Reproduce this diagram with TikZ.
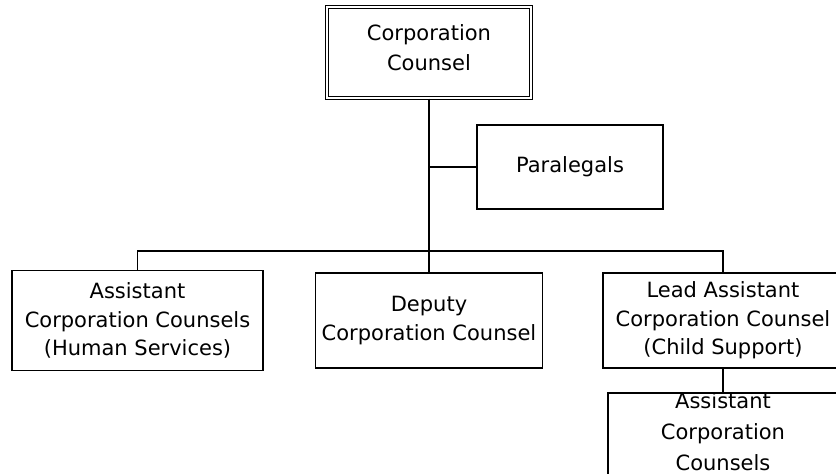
\documentclass[tikz,border=0pt]{standalone}
\usepackage{fontspec}
\setmainfont{DejaVu Sans}
\usetikzlibrary{positioning}
\begin{document}
\begin{tikzpicture}[node distance = 100pt]
    \tikzstyle{conn} = [line width = 1.6pt]
    \tikzstyle{box} = [rectangle, draw = black, line width = 1.6pt, inner sep = 2pt, align = center, font = \fontsize{21}{28.5}\selectfont]
    \tikzstyle{topbox} = [box, double, double distance = 2pt, line width = 1.2pt, font = \fontsize{21}{30}\selectfont]
    \useasboundingbox (0,0) rectangle (836pt,-474pt);
    \clip (0,0) rectangle (836pt,-474pt);

    \node[topbox, minimum width = 204pt, minimum height = 91pt, text depth = 10pt](CC) at (429pt,-52.5pt){Corporation\\Counsel};
    \node[box, right of = CC, xshift = 41pt, yshift = -114.5pt, minimum width = 186pt, minimum height = 84pt](Para){Paralegals};
    \node[box, below of = CC, yshift = -168pt, minimum width = 227pt, minimum height = 95pt](Deputy){Deputy\\Corporation Counsel};
    \node[box, left of = Deputy, xshift = -191.5pt, minimum width = 251pt, minimum height = 100pt](ACCHS){Assistant\\Corporation Counsels\\(Human Services)};
    \node[box, right of = Deputy, xshift = 194pt, minimum width = 240pt, minimum height = 95pt](Lead){Lead Assistant\\Corporation Counsel\\(Child Support)};
    \node[box, below of = Lead, yshift = -22.5pt, minimum width = 230pt, minimum height = 100pt,
          label = {[anchor = north, yshift = 0pt, inner sep = 0pt, align = center, font = \fontsize{21}{31}\selectfont]north:Assistant\\Corporation\\Counsels}](ACCCS){};

    \coordinate (Bus) at (429pt,-251pt);

    \draw[conn](CC.south)--(Bus);
    \draw[conn](Para.west)--(Para.west -| CC.south);
    \draw[conn](ACCHS.north)|-(Bus)-|(Lead.north);
    \draw[conn](Bus)--(Deputy.north);
    \draw[conn](Lead.south)--(ACCCS.north);

\end{tikzpicture}
\end{document}
